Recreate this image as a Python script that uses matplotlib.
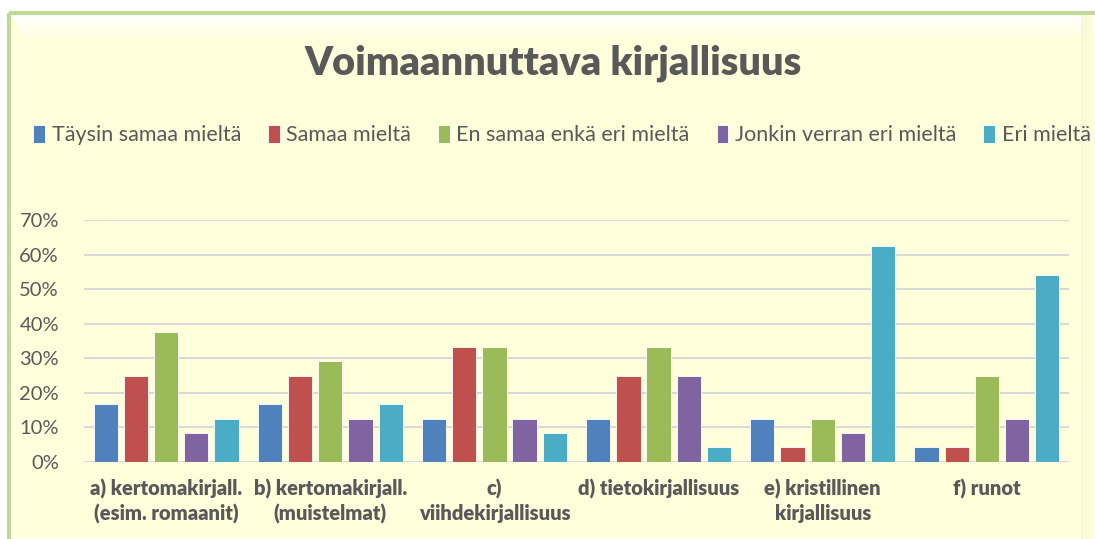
import numpy as np
import matplotlib.pyplot as plt
from matplotlib.patches import Rectangle

plt.rcParams['font.family'] = ['Lato', 'DejaVu Sans']

categories = ['a) kertomakirjall.\n(esim. romaanit)', 'b) kertomakirjall.\n(muistelmat)',
              'c)\nviihdekirjallisuus', 'd) tietokirjallisuus',
              'e) kristillinen\nkirjallisuus', 'f) runot']
series = ['Täysin samaa mieltä', 'Samaa mieltä', 'En samaa enkä eri mieltä',
          'Jonkin verran eri mieltä', 'Eri mieltä']
taysin = [16.7, 16.7, 12.5, 12.5, 12.5, 4.2]
samaa = [25.0, 25.0, 33.3, 25.0, 4.2, 4.2]
en_samaa = [37.5, 29.2, 33.3, 33.3, 12.5, 25.0]
jonkin = [8.3, 12.5, 12.5, 25.0, 8.3, 12.5]
eri = [12.5, 16.7, 8.3, 4.2, 62.5, 54.2]
colors = ['#4F81BD', '#C0504D', '#9BBB59', '#8064A2', '#4BACC6']
values = [taysin, samaa, en_samaa, jonkin, eri]

W, H = 1095, 539
fig = plt.figure(figsize=(W / 100, H / 100), dpi=100)
fig.patch.set_facecolor('white')

# chart background with soft bevel at the top
bg = fig.add_axes([0, 0, 1, 1], zorder=-10)
bg.set_xlim(0, W)
bg.set_ylim(H, 0)
bg.axis('off')
yellow = np.array([1.0, 1.0, 0.86])
bg.add_patch(Rectangle((9, 13), W - 9, H - 13, facecolor='#FFFFDC', edgecolor='none'))
for k in range(25):
    t = k / 25.0
    c = (1 - t) * np.array([1, 1, 1]) + t * yellow
    bg.add_patch(Rectangle((11 + k * 0.6, 15 + k), W - 11, 1.2, facecolor=c, edgecolor='none'))
for k in range(12):
    t = k / 12.0
    c = (1 - t) * np.array([0.96, 0.97, 0.84]) + t * yellow
    bg.add_patch(Rectangle((W - 14 + k, 15), 1.2, H, facecolor=c, edgecolor='none'))
bg.add_patch(Rectangle((9, 13), W, H, facecolor='none', edgecolor='#C4D79B', linewidth=3, zorder=5))

ax = fig.add_axes([84 / W, (H - 462) / H, (1069 - 84) / W, (462 - 220) / H])
ax.set_facecolor('none')

x = np.arange(len(categories))
step = 0.184
width = 0.148
for i, (name, vals) in enumerate(zip(series, values)):
    ax.bar(x + (i - 2) * step, np.array(vals) / 100, width, color=colors[i],
           edgecolor='#FFFFFF', linewidth=0.6, label=name, zorder=3)

ax.set_xlim(-0.5, len(categories) - 0.5)
ax.set_ylim(0, 0.7)
ax.set_yticks(np.arange(0, 0.71, 0.1))
ax.set_yticklabels([f'{int(round(v * 100))}%' for v in np.arange(0, 0.71, 0.1)],
                   fontsize=14.5, color='#595959')
ax.set_xticks(x)
ax.set_xticklabels(categories, fontsize=14.5, fontweight='heavy', color='#595959',
                   linespacing=1.3, va='top')
ax.tick_params(axis='both', length=0)
ax.tick_params(axis='x', pad=12)
ax.tick_params(axis='y', pad=18)
ax.grid(axis='y', color='#D9D9D9', linewidth=1.5, zorder=0)
for s in ax.spines.values():
    s.set_visible(False)

fig.text(553 / W, 1 - 63 / H, 'Voimaannuttava kirjallisuus', ha='center', va='center',
         fontsize=28.5, fontweight='heavy', color='#595959')

fig.legend(loc='center', bbox_to_anchor=(562 / W, 1 - 135 / H), ncol=5, frameon=False,
           fontsize=15.5, labelcolor='#595959', handlelength=0.55, handleheight=0.95,
           handletextpad=0.3, columnspacing=1.25, borderaxespad=0)

fig.savefig('out.png', dpi=100, facecolor=fig.get_facecolor())
